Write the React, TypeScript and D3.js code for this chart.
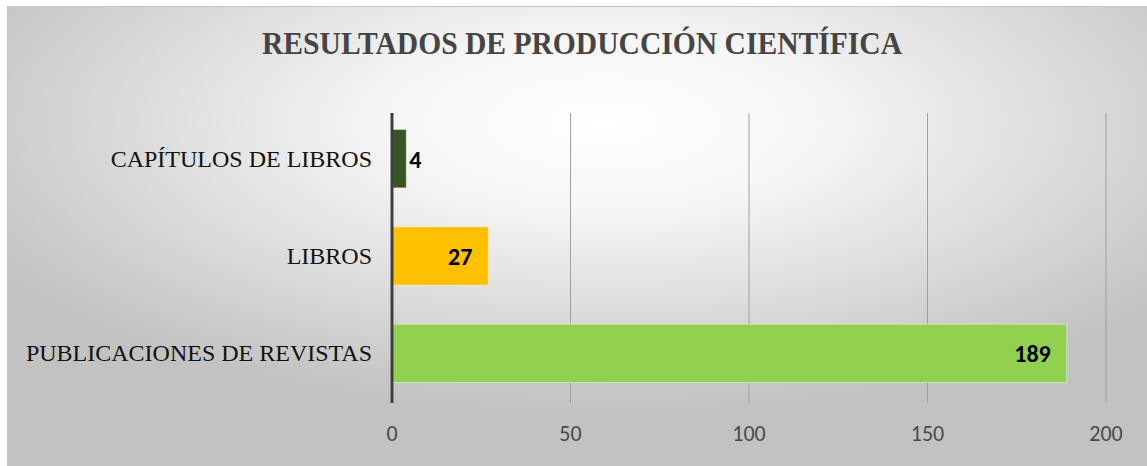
import React, { useEffect, useRef } from "react";
import * as d3 from "d3";

const categories = ["CAPÍTULOS DE LIBROS", "LIBROS", "PUBLICACIONES DE REVISTAS"];
const values = [4, 27, 189];
const barColors = ["#375623", "#FFC000", "#92D050"];
const xTicks = [0, 50, 100, 150, 200];
const title = "RESULTADOS DE PRODUCCIÓN CIENTÍFICA";

export default function App() {
  const ref = useRef<SVGSVGElement>(null);

  useEffect(() => {
    const svg = d3.select(ref.current);
    svg.selectAll("*").remove();

    const width = 1147;
    const height = 466;
    const plot = { left: 392, right: 1106, top: 113, bottom: 403 };

    svg.attr("width", width).attr("height", height);

    // background gradient
    const defs = svg.append("defs");
    const grad = defs.append("radialGradient")
      .attr("id", "bg")
      .attr("cx", "52%")
      .attr("cy", "25%")
      .attr("r", "62%");
    grad.append("stop").attr("offset", "0%").attr("stop-color", "#ffffff");
    grad.append("stop").attr("offset", "30%").attr("stop-color", "#f6f6f6");
    grad.append("stop").attr("offset", "100%").attr("stop-color", "#c2c2c2");

    svg.append("rect")
      .attr("x", 7.5)
      .attr("y", 6.5)
      .attr("width", width)
      .attr("height", height)
      .attr("fill", "url(#bg)")
      .attr("stroke", "#c4c4c4")
      .attr("stroke-width", 1);

    // Title
    svg.append("text")
      .attr("x", 582)
      .attr("y", 54)
      .attr("text-anchor", "middle")
      .attr("font-family", "'Liberation Serif', 'Times New Roman', serif")
      .attr("font-size", "32px")
      .attr("font-weight", "bold")
      .attr("fill", "#454545")
      .attr("textLength", 640)
      .attr("lengthAdjust", "spacingAndGlyphs")
      .text(title);

    const x = d3.scaleLinear()
      .domain([0, 200])
      .range([plot.left, plot.right]);

    const y = d3.scaleBand()
      .domain(categories)
      .range([plot.top - 3, plot.bottom - 1])
      .paddingInner(0.4)
      .paddingOuter(0.2);

    // Gridlines
    svg.append("g")
      .selectAll("line")
      .data(xTicks.filter(d => d > 0))
      .enter()
      .append("line")
      .attr("x1", d => x(d))
      .attr("x2", d => x(d))
      .attr("y1", plot.top)
      .attr("y2", plot.bottom)
      .attr("stroke", "#a0a0a0")
      .attr("stroke-width", 1);

    // Tick labels
    svg.append("g")
      .selectAll("text")
      .data(xTicks)
      .enter()
      .append("text")
      .attr("x", d => x(d))
      .attr("y", 441)
      .attr("text-anchor", "middle")
      .attr("font-family", "Carlito, Lato, sans-serif")
      .attr("font-size", "22px")
      .attr("fill", "#4a4a4a")
      .text(d => d);

    // Bars
    svg.append("g")
      .selectAll("rect")
      .data(values)
      .enter()
      .append("rect")
      .attr("x", x(0))
      .attr("y", (d, i) => y(categories[i]))
      .attr("width", d => x(d) - x(0))
      .attr("height", y.bandwidth())
      .attr("fill", (d, i) => barColors[i])
      .attr("stroke", "rgba(255,255,255,0.45)")
      .attr("stroke-width", 1);

    // Data labels
    svg.append("g")
      .selectAll("text")
      .data(values)
      .enter()
      .append("text")
      .attr("x", d => (x(d) - x(0) > 40 ? x(d) - 16 : x(d) + 3))
      .attr("y", (d, i) => y(categories[i]) + y.bandwidth() / 2 + 9)
      .attr("text-anchor", d => (x(d) - x(0) > 40 ? "end" : "start"))
      .attr("font-family", "Carlito, Lato, sans-serif")
      .attr("font-size", "24px")
      .attr("font-weight", "bold")
      .attr("fill", "#000000")
      .text(d => d);

    // Category labels
    svg.append("g")
      .selectAll("text")
      .data(categories)
      .enter()
      .append("text")
      .attr("x", 372)
      .attr("y", d => y(d) + y.bandwidth() / 2 + 8)
      .attr("text-anchor", "end")
      .attr("font-family", "'Liberation Serif', 'Times New Roman', serif")
      .attr("font-size", "24px")
      .attr("fill", "#111111")
      .text(d => d);

    // Vertical axis line
    svg.append("line")
      .attr("x1", x(0))
      .attr("x2", x(0))
      .attr("y1", plot.top)
      .attr("y2", plot.bottom)
      .attr("stroke", "#404040")
      .attr("stroke-width", 3);
  }, []);

  return <svg ref={ref} style={{ position: "absolute", left: 0, top: 0, display: "block" }}></svg>;
}
